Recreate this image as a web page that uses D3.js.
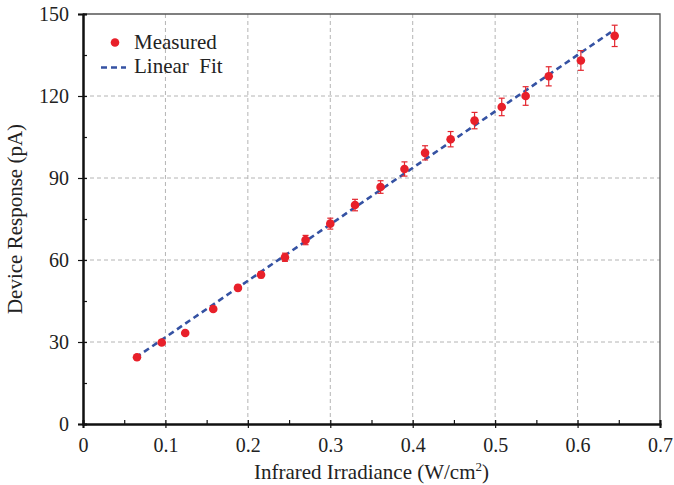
<!DOCTYPE html>
<html>
<head>
<meta charset="utf-8">
<script src="https://cdn.jsdelivr.net/npm/d3@7"></script>
<style>
  body { margin: 0; background: #fff; }
  svg { display: block; }
  text { font-family: "Liberation Serif", "Times New Roman", serif; fill: #222; }
</style>
</head>
<body>
<svg id="chart"></svg>
<script>
// measured points
var irradiance = [0.0655, 0.0955, 0.124, 0.158, 0.188, 0.216, 0.245, 0.270, 0.300, 0.330,
                  0.361, 0.390, 0.415, 0.446, 0.475, 0.508, 0.537, 0.565, 0.604, 0.645]
var response   = [24.4, 29.8, 33.3, 42.1, 49.8, 54.6, 61.0, 67.3, 73.3, 80.1,
                  86.7, 93.3, 99.2, 104.2, 111.0, 116.0, 120.0, 127.2, 133.0, 142.0]
var errBar     = [0.6, 0.7, 0.7, 0.9, 1.0, 1.1, 1.5, 1.7, 2.0, 2.1,
                  2.3, 2.6, 2.6, 2.8, 3.0, 3.2, 3.4, 3.5, 3.6, 3.9]
// fitted line end points
var fitX = [0.064, 0.643]
var fitY = [24.3, 143.9]

var xTicks = [0, 0.1, 0.2, 0.3, 0.4, 0.5, 0.6, 0.7]
var yTicks = [0, 30, 60, 90, 120, 150]
var xMinor = [0.05, 0.15, 0.25, 0.35, 0.45, 0.55, 0.65]
var yMinor = [15, 45, 75, 105, 135]

var screen = {width: 674, height: 485}
var margins = {top: 14, bottom: 61, left: 83, right: 14}
var graph = {
    width: screen.width - margins.left - margins.right,
    height: screen.height - margins.top - margins.bottom
}

var svg = d3.select("#chart")
    .attr("width", screen.width)
    .attr("height", screen.height)

var xScale = d3.scaleLinear().domain([0, 0.7]).range([0, graph.width])
var yScale = d3.scaleLinear().domain([0, 150]).range([graph.height, 0])

var g = svg.append("g")
    .attr("transform", "translate(" + margins.left + "," + margins.top + ")")

// grid
g.append("g").selectAll("line")
    .data(xTicks.slice(1, -1))
    .enter().append("line")
    .attr("x1", function(d){ return xScale(d) })
    .attr("x2", function(d){ return xScale(d) })
    .attr("y1", 0).attr("y2", graph.height)
    .attr("stroke", "#b4b4b4").attr("stroke-width", 1)
    .attr("stroke-dasharray", "4,3")
g.append("g").selectAll("line")
    .data(yTicks.slice(1, -1))
    .enter().append("line")
    .attr("y1", function(d){ return yScale(d) })
    .attr("y2", function(d){ return yScale(d) })
    .attr("x1", 0).attr("x2", graph.width)
    .attr("stroke", "#b4b4b4").attr("stroke-width", 1)
    .attr("stroke-dasharray", "4,3")

// frame top/right
g.append("path")
    .attr("d", "M0,0H" + graph.width + "V" + graph.height)
    .attr("fill", "none").attr("stroke", "#555").attr("stroke-width", 1.3)

// fit line
var lineGenerator = d3.line()
    .x(function(d){ return xScale(d[0]) })
    .y(function(d){ return yScale(d[1]) })
g.append("path")
    .datum(d3.zip(fitX, fitY))
    .attr("d", lineGenerator)
    .attr("fill", "none")
    .attr("stroke", "#3552a3")
    .attr("stroke-width", 2.6)
    .attr("stroke-dasharray", "6,4")

// error bars and points
var pts = d3.range(irradiance.length).map(function(i){
    return {x: irradiance[i], y: response[i], e: errBar[i]}
})
var bars = g.append("g").attr("stroke", "#e3262e").attr("stroke-width", 1.2)
pts.forEach(function(p){
    var cx = xScale(p.x), t = yScale(p.y + p.e), b = yScale(p.y - p.e)
    bars.append("line").attr("x1", cx).attr("x2", cx).attr("y1", t).attr("y2", b)
    bars.append("line").attr("x1", cx - 3).attr("x2", cx + 3).attr("y1", t).attr("y2", t)
    bars.append("line").attr("x1", cx - 3).attr("x2", cx + 3).attr("y1", b).attr("y2", b)
})
g.append("g").selectAll("circle")
    .data(pts)
    .enter().append("circle")
    .attr("cx", function(d){ return xScale(d.x) })
    .attr("cy", function(d){ return yScale(d.y) })
    .attr("r", 4.3)
    .attr("fill", "#e8202a")

// axes
var xAxisG = g.append("g").attr("transform", "translate(0," + graph.height + ")")
xAxisG.call(d3.axisBottom(xScale).tickValues(xTicks).tickSize(4).tickPadding(10)
    .tickFormat(function(d){ return d === 0 ? "0" : d3.format(".1f")(d) }))
xAxisG.append("g").call(d3.axisBottom(xScale).tickValues(xTicks.concat(xMinor)).tickSize(-4).tickFormat(""))
xAxisG.selectAll(".domain").attr("stroke", "#111").attr("stroke-width", 2)

var yAxisG = g.append("g")
yAxisG.call(d3.axisLeft(yScale).tickValues(yTicks).tickSize(5).tickPadding(9))
yAxisG.append("g").call(d3.axisLeft(yScale).tickValues(yTicks.concat(yMinor)).tickSize(-4).tickFormat(""))
yAxisG.selectAll(".domain").attr("stroke", "#111").attr("stroke-width", 2)

svg.selectAll(".tick line").attr("stroke", "#111").attr("stroke-width", 1.2)
svg.selectAll(".tick text")
    .attr("font-family", "Liberation Serif, serif")
    .attr("font-size", 20)
    .attr("fill", "#222")

// labels
var xLabel = svg.append("text")
    .attr("x", margins.left + graph.width / 2)
    .attr("y", 479)
    .attr("text-anchor", "middle")
    .attr("font-size", 21)
xLabel.append("tspan").text("Infrared Irradiance (W/cm")
xLabel.append("tspan").text("2").attr("font-size", 13).attr("dy", -8)
xLabel.append("tspan").text(")").attr("dy", 8)

svg.append("text")
    .attr("transform", "translate(22," + (margins.top + graph.height / 2) + ") rotate(-90)")
    .attr("text-anchor", "middle")
    .attr("font-size", 21)
    .text("Device Response (pA)")

// legend
var legend = svg.append("g")
legend.append("circle").attr("cx", 115).attr("cy", 42.5).attr("r", 4.3).attr("fill", "#e8202a")
legend.append("text").attr("x", 134).attr("y", 49).attr("font-size", 21).text("Measured")
legend.append("line")
    .attr("x1", 101).attr("x2", 126).attr("y1", 67.5).attr("y2", 67.5)
    .attr("stroke", "#3552a3").attr("stroke-width", 2.6).attr("stroke-dasharray", "6,4")
legend.append("text").attr("x", 134).attr("y", 73).attr("font-size", 21)
    .text("Linear\u00a0\u00a0Fit")
</script>
</body>
</html>
